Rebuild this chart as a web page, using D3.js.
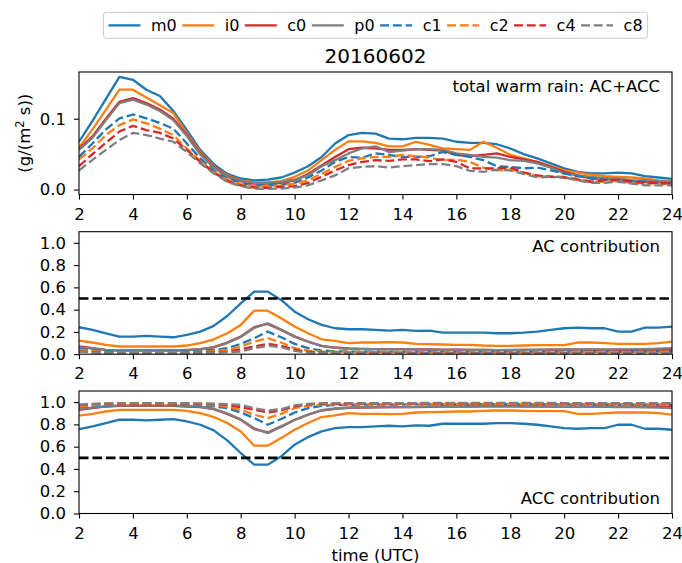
<!DOCTYPE html>
<html>
<head>
<meta charset="utf-8">
<script src="https://cdn.jsdelivr.net/npm/d3@7"></script>
<style>
  body { margin: 0; background: #fff; }
  svg { display: block; }
  text { font-family: "DejaVu Sans", sans-serif; fill: #000; }
</style>
</head>
<body>
<div id="wrapper"></div>
<script>
// 1. Data (half-hourly from 2 to 24 UTC)
const hours = [2, 2.5, 3, 3.5, 4, 4.5, 5, 5.5, 6, 6.5, 7, 7.5, 8, 8.5, 9, 9.5, 10, 10.5, 11, 11.5,
  12, 12.5, 13, 13.5, 14, 14.5, 15, 15.5, 16, 16.5, 17, 17.5, 18, 18.5, 19, 19.5, 20, 20.5, 21, 21.5,
  22, 22.5, 23, 23.5, 24]
const xTicks = [2, 4, 6, 8, 10, 12, 14, 16, 18, 20, 22, 24]
const rainTicks = [0, 0.1]
const fracTicks = [0, 0.2, 0.4, 0.6, 0.8, 1.0]
const seriesNames = ["m0", "i0", "c0", "p0", "c1", "c2", "c4", "c8"]
const seriesColors = ["#1f77b4", "#ff7f0e", "#d62728", "#7f7f7f", "#1f77b4", "#ff7f0e", "#d62728", "#7f7f7f"]
const seriesDashed = [false, false, false, false, true, true, true, true]
const title = "20160602"

// total warm rain AC+ACC, g/(m2 s)
const rainM0 = [0.0675, 0.097, 0.128, 0.159, 0.155, 0.141, 0.132, 0.111, 0.084, 0.056, 0.036, 0.022, 0.0156, 0.013, 0.014, 0.017, 0.024, 0.033, 0.046, 0.065, 0.077,
  0.080, 0.079, 0.072, 0.071, 0.073, 0.073, 0.072, 0.0675, 0.066, 0.066, 0.064, 0.058, 0.050, 0.044, 0.037, 0.030, 0.025, 0.0227, 0.0227, 0.024, 0.0227, 0.019, 0.017, 0.015]
const rainI0 = [0.059, 0.085, 0.113, 0.141, 0.141, 0.130, 0.119, 0.108, 0.079, 0.053, 0.033, 0.020, 0.013, 0.010, 0.010, 0.012, 0.018, 0.027, 0.0415, 0.056, 0.068,
  0.068, 0.066, 0.061, 0.061, 0.0675, 0.063, 0.058, 0.057, 0.056, 0.0675, 0.059, 0.049, 0.044, 0.039, 0.033, 0.027, 0.024, 0.021, 0.019, 0.018, 0.017, 0.0156, 0.013, 0.012]
const rainC0 = [0.057, 0.075, 0.100, 0.124, 0.129, 0.122, 0.113, 0.100, 0.077, 0.051, 0.032, 0.019, 0.012, 0.0085, 0.0085, 0.0094, 0.013, 0.022, 0.034, 0.046, 0.057,
  0.059, 0.058, 0.056, 0.056, 0.057, 0.056, 0.055, 0.049, 0.047, 0.049, 0.051, 0.046, 0.0425, 0.039, 0.032, 0.025, 0.020, 0.0156, 0.0156, 0.014, 0.012, 0.011, 0.011, 0.0094]
const rainP0 = [0.056, 0.073, 0.098, 0.122, 0.127, 0.120, 0.111, 0.098, 0.0755, 0.0495, 0.031, 0.018, 0.0118, 0.0094, 0.0094, 0.011, 0.014, 0.020, 0.033, 0.0415, 0.051,
  0.058, 0.061, 0.053, 0.055, 0.057, 0.057, 0.056, 0.051, 0.049, 0.046, 0.045, 0.0415, 0.0405, 0.037, 0.031, 0.0227, 0.020, 0.018, 0.0156, 0.0156, 0.013, 0.013, 0.012, 0.011]
const rainC1 = [0.046, 0.065, 0.085, 0.1005, 0.106, 0.1005, 0.094, 0.086, 0.065, 0.044, 0.027, 0.0156, 0.0094, 0.006, 0.006, 0.007, 0.0094, 0.017, 0.027, 0.039, 0.046,
  0.045, 0.051, 0.049, 0.046, 0.046, 0.047, 0.053, 0.049, 0.046, 0.0415, 0.033, 0.032, 0.030, 0.031, 0.027, 0.0227, 0.019, 0.0156, 0.014, 0.013, 0.012, 0.011, 0.0094, 0.0085]
const rainC2 = [0.0425, 0.058, 0.077, 0.091, 0.099, 0.0935, 0.086, 0.077, 0.058, 0.040, 0.025, 0.014, 0.0076, 0.0047, 0.0047, 0.006, 0.0085, 0.013, 0.022, 0.032, 0.0405,
  0.044, 0.046, 0.046, 0.049, 0.047, 0.045, 0.0415, 0.0425, 0.039, 0.031, 0.027, 0.028, 0.024, 0.019, 0.019, 0.018, 0.0156, 0.011, 0.011, 0.012, 0.0094, 0.0085, 0.0085, 0.0076]
const rainC4 = [0.033, 0.050, 0.066, 0.082, 0.090, 0.084, 0.080, 0.072, 0.056, 0.039, 0.024, 0.012, 0.006, 0.0028, 0.0024, 0.0038, 0.0047, 0.0094, 0.018, 0.027, 0.0345,
  0.039, 0.0415, 0.0405, 0.0425, 0.0425, 0.040, 0.0425, 0.039, 0.030, 0.030, 0.030, 0.031, 0.024, 0.020, 0.018, 0.017, 0.014, 0.011, 0.013, 0.014, 0.011, 0.0094, 0.0094, 0.0085]
const rainC8 = [0.027, 0.042, 0.056, 0.070, 0.080, 0.077, 0.072, 0.0675, 0.053, 0.037, 0.0227, 0.011, 0.0047, 0.0014, 0.001, 0.0014, 0.0028, 0.006, 0.013, 0.020, 0.030,
  0.032, 0.033, 0.031, 0.033, 0.0345, 0.036, 0.036, 0.033, 0.0265, 0.025, 0.028, 0.027, 0.022, 0.017, 0.018, 0.017, 0.013, 0.0094, 0.0094, 0.011, 0.0085, 0.006, 0.006, 0.006]

// AC contribution (fraction)
const acM0 = [0.242, 0.218, 0.188, 0.158, 0.158, 0.164, 0.158, 0.152, 0.173, 0.203, 0.254, 0.343, 0.457, 0.562, 0.562, 0.487, 0.382, 0.314, 0.263, 0.233, 0.224,
  0.224, 0.218, 0.212, 0.218, 0.209, 0.212, 0.194, 0.194, 0.194, 0.194, 0.188, 0.188, 0.194, 0.203, 0.218, 0.233, 0.239, 0.233, 0.233, 0.203, 0.203, 0.239, 0.239, 0.248]
const acI0 = [0.122, 0.105, 0.084, 0.069, 0.069, 0.069, 0.069, 0.069, 0.078, 0.099, 0.134, 0.188, 0.263, 0.391, 0.391, 0.323, 0.248, 0.188, 0.134, 0.119, 0.099,
  0.105, 0.105, 0.108, 0.105, 0.093, 0.090, 0.087, 0.084, 0.084, 0.078, 0.075, 0.075, 0.078, 0.081, 0.081, 0.081, 0.105, 0.105, 0.099, 0.093, 0.093, 0.093, 0.099, 0.113]
const acC0 = [0.069, 0.054, 0.039, 0.033, 0.033, 0.033, 0.033, 0.033, 0.039, 0.045, 0.063, 0.105, 0.158, 0.242, 0.272, 0.218, 0.158, 0.113, 0.075, 0.060, 0.051,
  0.048, 0.046, 0.045, 0.045, 0.044, 0.042, 0.040, 0.040, 0.039, 0.038, 0.037, 0.037, 0.038, 0.038, 0.040, 0.040, 0.041, 0.040, 0.039, 0.040, 0.038, 0.038, 0.040, 0.041]
const acP0 = [0.062, 0.050, 0.038, 0.031, 0.031, 0.031, 0.031, 0.031, 0.036, 0.043, 0.060, 0.100, 0.155, 0.235, 0.278, 0.222, 0.160, 0.112, 0.072, 0.057, 0.048,
  0.046, 0.045, 0.043, 0.044, 0.043, 0.041, 0.039, 0.040, 0.038, 0.038, 0.037, 0.038, 0.039, 0.040, 0.041, 0.042, 0.043, 0.043, 0.042, 0.044, 0.045, 0.046, 0.050, 0.054]
const acC1 = [0.045, 0.035, 0.028, 0.024, 0.024, 0.024, 0.024, 0.024, 0.026, 0.030, 0.038, 0.054, 0.093, 0.143, 0.203, 0.152, 0.093, 0.054, 0.033, 0.026, 0.024,
  0.022, 0.022, 0.021, 0.021, 0.020, 0.020, 0.019, 0.019, 0.019, 0.018, 0.018, 0.018, 0.018, 0.019, 0.019, 0.020, 0.020, 0.021, 0.021, 0.021, 0.022, 0.022, 0.023, 0.024]
const acC2 = [0.039, 0.028, 0.021, 0.018, 0.018, 0.018, 0.018, 0.018, 0.019, 0.022, 0.028, 0.039, 0.069, 0.113, 0.143, 0.105, 0.054, 0.033, 0.024, 0.021, 0.020,
  0.019, 0.019, 0.018, 0.018, 0.017, 0.017, 0.016, 0.016, 0.016, 0.016, 0.015, 0.015, 0.016, 0.016, 0.017, 0.017, 0.018, 0.018, 0.018, 0.019, 0.019, 0.020, 0.021, 0.022]
const acC4 = [0.024, 0.018, 0.014, 0.012, 0.012, 0.012, 0.012, 0.012, 0.013, 0.015, 0.018, 0.024, 0.045, 0.069, 0.093, 0.075, 0.039, 0.021, 0.015, 0.013, 0.012,
  0.011, 0.011, 0.011, 0.010, 0.010, 0.010, 0.010, 0.010, 0.010, 0.010, 0.009, 0.009, 0.009, 0.010, 0.010, 0.010, 0.010, 0.010, 0.010, 0.011, 0.011, 0.011, 0.012, 0.012]
const acC8 = [0.024, 0.016, 0.011, 0.009, 0.009, 0.009, 0.009, 0.009, 0.010, 0.011, 0.014, 0.018, 0.024, 0.054, 0.075, 0.063, 0.030, 0.015, 0.010, 0.009, 0.009,
  0.008, 0.008, 0.008, 0.008, 0.008, 0.007, 0.007, 0.007, 0.007, 0.007, 0.007, 0.007, 0.007, 0.007, 0.007, 0.008, 0.008, 0.008, 0.008, 0.008, 0.008, 0.009, 0.009, 0.009]

// ACC contribution (fraction)
const accM0 = [0.758, 0.782, 0.812, 0.842, 0.842, 0.836, 0.842, 0.848, 0.827, 0.797, 0.746, 0.657, 0.543, 0.438, 0.438, 0.513, 0.618, 0.686, 0.737, 0.767, 0.776,
  0.776, 0.782, 0.788, 0.782, 0.791, 0.788, 0.806, 0.806, 0.806, 0.806, 0.812, 0.812, 0.806, 0.797, 0.782, 0.767, 0.761, 0.767, 0.767, 0.797, 0.797, 0.761, 0.761, 0.752]
const accI0 = [0.878, 0.895, 0.916, 0.931, 0.931, 0.931, 0.931, 0.931, 0.922, 0.901, 0.866, 0.812, 0.737, 0.609, 0.609, 0.677, 0.752, 0.812, 0.866, 0.881, 0.901,
  0.895, 0.895, 0.892, 0.895, 0.907, 0.910, 0.913, 0.916, 0.916, 0.922, 0.925, 0.925, 0.922, 0.919, 0.919, 0.919, 0.895, 0.895, 0.901, 0.907, 0.907, 0.907, 0.901, 0.887]
const accC0 = [0.931, 0.946, 0.961, 0.967, 0.967, 0.967, 0.967, 0.967, 0.961, 0.955, 0.937, 0.895, 0.842, 0.758, 0.728, 0.782, 0.842, 0.887, 0.925, 0.940, 0.949,
  0.952, 0.954, 0.955, 0.955, 0.956, 0.958, 0.960, 0.960, 0.961, 0.962, 0.963, 0.963, 0.962, 0.962, 0.960, 0.960, 0.959, 0.960, 0.961, 0.960, 0.962, 0.962, 0.960, 0.959]
const accP0 = [0.938, 0.950, 0.962, 0.969, 0.969, 0.969, 0.969, 0.969, 0.964, 0.957, 0.940, 0.900, 0.845, 0.765, 0.722, 0.778, 0.840, 0.888, 0.928, 0.943, 0.952,
  0.954, 0.955, 0.957, 0.956, 0.957, 0.959, 0.961, 0.960, 0.962, 0.962, 0.963, 0.962, 0.961, 0.960, 0.959, 0.958, 0.957, 0.957, 0.958, 0.956, 0.955, 0.954, 0.950, 0.946]
const accC1 = [0.955, 0.965, 0.972, 0.976, 0.976, 0.976, 0.976, 0.976, 0.974, 0.970, 0.962, 0.946, 0.907, 0.857, 0.797, 0.848, 0.907, 0.946, 0.967, 0.974, 0.976,
  0.978, 0.978, 0.979, 0.979, 0.980, 0.980, 0.981, 0.981, 0.981, 0.982, 0.982, 0.982, 0.982, 0.981, 0.981, 0.980, 0.980, 0.979, 0.979, 0.979, 0.978, 0.978, 0.977, 0.976]
const accC2 = [0.961, 0.972, 0.979, 0.982, 0.982, 0.982, 0.982, 0.982, 0.981, 0.978, 0.972, 0.961, 0.931, 0.887, 0.857, 0.895, 0.946, 0.967, 0.976, 0.979, 0.980,
  0.981, 0.981, 0.982, 0.982, 0.983, 0.983, 0.984, 0.984, 0.984, 0.984, 0.985, 0.985, 0.984, 0.984, 0.983, 0.983, 0.982, 0.982, 0.982, 0.981, 0.981, 0.980, 0.979, 0.978]
const accC4 = [0.976, 0.982, 0.986, 0.988, 0.988, 0.988, 0.988, 0.988, 0.987, 0.985, 0.982, 0.976, 0.955, 0.931, 0.907, 0.925, 0.961, 0.979, 0.985, 0.987, 0.988,
  0.989, 0.989, 0.989, 0.990, 0.990, 0.990, 0.990, 0.990, 0.990, 0.990, 0.991, 0.991, 0.991, 0.990, 0.990, 0.990, 0.990, 0.990, 0.990, 0.989, 0.989, 0.989, 0.988, 0.988]
const accC8 = [0.976, 0.984, 0.989, 0.991, 0.991, 0.991, 0.991, 0.991, 0.990, 0.989, 0.986, 0.982, 0.976, 0.946, 0.925, 0.937, 0.970, 0.985, 0.990, 0.991, 0.991,
  0.992, 0.992, 0.992, 0.992, 0.992, 0.993, 0.993, 0.993, 0.993, 0.993, 0.993, 0.993, 0.993, 0.993, 0.993, 0.992, 0.992, 0.992, 0.992, 0.992, 0.992, 0.991, 0.991, 0.991]

const rainSeries = [rainM0, rainI0, rainC0, rainP0, rainC1, rainC2, rainC4, rainC8]
const acSeries = [acM0, acI0, acC0, acP0, acC1, acC2, acC4, acC8]
const accSeries = [accM0, accI0, accC0, accP0, accC1, accC2, accC4, accC8]

// 2. Dimensions
const dimensions = {
  width: 682,
  height: 563,
  margin: { left: 79, right: 10 },
  panelHeight: 122.5,
}
dimensions.boundedWidth = dimensions.width - dimensions.margin.left - dimensions.margin.right

const lineWidth = 2.3
const dashPattern = "8.9,3.8"
const fontSize = 16.5
const legendFontSize = 16

const panels = [
  { top: 72, domain: [-0.007, 0.166], ticks: rainTicks, format: d3.format(".1f"),
    series: rainSeries, note: "total warm rain: AC+ACC", noteY: 19.8, half: false },
  { top: 231.7, domain: [0, 1.1], ticks: fracTicks, format: d3.format(".1f"),
    series: acSeries, note: "AC contribution", noteY: 20, half: true },
  { top: 391, domain: [0, 1.1], ticks: fracTicks, format: d3.format(".1f"),
    series: accSeries, note: "ACC contribution", noteY: 112.8, half: true },
]

// 3. Canvas
const svg = d3.select("#wrapper")
  .append("svg")
  .attr("width", dimensions.width)
  .attr("height", dimensions.height)

// 4. Scales
const xScale = d3.scaleLinear()
  .domain([2, 24])
  .range([0, dimensions.boundedWidth])

// 5. Panels
panels.forEach(panel => {
  const bounds = svg.append("g")
    .attr("transform", `translate(${dimensions.margin.left}, ${panel.top})`)

  const yScale = d3.scaleLinear()
    .domain(panel.domain)
    .range([dimensions.panelHeight, 0])

  const lineGenerator = d3.line()
    .x((d, i) => xScale(hours[i]))
    .y(d => yScale(d))

  bounds.append("defs").append("clipPath")
    .attr("id", `clip${panel.top}`)
    .append("rect")
    .attr("width", dimensions.boundedWidth)
    .attr("height", dimensions.panelHeight)

  const plot = bounds.append("g").attr("clip-path", `url(#clip${panel.top})`)

  plot.selectAll("path.series")
    .data(panel.series)
    .enter()
    .append("path")
    .attr("class", "series")
    .attr("d", lineGenerator)
    .attr("fill", "none")
    .attr("stroke", (d, i) => seriesColors[i])
    .attr("stroke-width", lineWidth)
    .attr("stroke-linejoin", "round")
    .attr("stroke-dasharray", (d, i) => seriesDashed[i] ? dashPattern : null)

  if (panel.half) {
    plot.append("line")
      .attr("x1", 0)
      .attr("x2", dimensions.boundedWidth)
      .attr("y1", yScale(0.5))
      .attr("y2", yScale(0.5))
      .attr("stroke", "#000")
      .attr("stroke-width", 2.7)
      .attr("stroke-dasharray", "9.5,4")
  }

  // 6. Peripherals
  const xAxis = bounds.append("g")
    .attr("transform", `translate(0, ${dimensions.panelHeight})`)
    .call(d3.axisBottom(xScale).tickValues(xTicks).tickSize(5).tickPadding(8.3).tickFormat(d3.format("d")))
  const yAxis = bounds.append("g")
    .call(d3.axisLeft(yScale).tickValues(panel.ticks).tickSize(5).tickPadding(8).tickFormat(panel.format))

  ;[xAxis, yAxis].forEach(axis => {
    axis.select(".domain").remove()
    axis.selectAll(".tick line").attr("stroke", "#000").attr("stroke-width", 1.1)
    axis.selectAll(".tick text")
      .attr("fill", "#000")
      .style("font-size", `${fontSize}px`)
      .style("font-family", "DejaVu Sans")
  })

  bounds.append("rect")
    .attr("width", dimensions.boundedWidth)
    .attr("height", dimensions.panelHeight)
    .attr("fill", "none")
    .attr("stroke", "#000")
    .attr("stroke-width", 1.1)

  bounds.append("text")
    .attr("x", dimensions.boundedWidth - 12)
    .attr("y", panel.noteY)
    .attr("text-anchor", "end")
    .style("font-size", `${fontSize}px`)
    .text(panel.note)
})

// y label of first panel
const yLabel = svg.append("text")
  .attr("transform", `translate(29.5, ${panels[0].top + dimensions.panelHeight / 2}) rotate(-90)`)
  .attr("text-anchor", "middle")
  .style("font-size", `${fontSize}px`)
yLabel.append("tspan").text("(g/(m")
yLabel.append("tspan").attr("dy", -6).style("font-size", "11.5px").text("2")
yLabel.append("tspan").attr("dy", 6).text(" s))")

svg.append("text")
  .attr("x", dimensions.margin.left + dimensions.boundedWidth / 2)
  .attr("y", 560.5)
  .attr("text-anchor", "middle")
  .style("font-size", `${fontSize}px`)
  .text("time (UTC)")

svg.append("text")
  .attr("x", dimensions.margin.left + dimensions.boundedWidth / 2)
  .attr("y", 62.5)
  .attr("text-anchor", "middle")
  .style("font-size", "20px")
  .text(title)

// 7. Legend
const legend = {
  handle: 32,
  textPad: 10.5,
  colSpacing: 5.5,
  pad: 5,
  top: 12.3,
  height: 26,
}
const legendGroup = svg.append("g")
const legendBox = legendGroup.append("rect")
const legendItems = legendGroup.selectAll("g")
  .data(seriesNames)
  .enter()
  .append("g")
legendItems.append("line")
  .attr("x1", 0)
  .attr("x2", legend.handle)
  .attr("y1", 0)
  .attr("y2", 0)
  .attr("stroke", (d, i) => seriesColors[i])
  .attr("stroke-width", lineWidth)
  .attr("stroke-dasharray", (d, i) => seriesDashed[i] ? dashPattern : null)
legendItems.append("text")
  .attr("x", legend.handle + legend.textPad)
  .attr("y", 5.8)
  .style("font-size", `${legendFontSize}px`)
  .text(d => d)

let cursor = legend.pad
legendItems.each(function () {
  const item = d3.select(this)
  const textWidth = item.select("text").node().getComputedTextLength()
  item.attr("transform", `translate(${cursor}, ${legend.top + legend.height / 2})`)
  cursor += legend.handle + legend.textPad + textWidth + legend.colSpacing
})
const legendWidth = cursor - legend.colSpacing + legend.pad
const legendLeft = dimensions.margin.left + dimensions.boundedWidth / 2 - legendWidth / 2
legendGroup.attr("transform", `translate(${legendLeft}, 0)`)
legendBox
  .attr("x", 0)
  .attr("y", legend.top)
  .attr("width", legendWidth)
  .attr("height", legend.height)
  .attr("rx", 3)
  .attr("fill", "#fff")
  .attr("fill-opacity", 0.8)
  .attr("stroke", "#cccccc")
  .attr("stroke-width", 1)
</script>
</body>
</html>
